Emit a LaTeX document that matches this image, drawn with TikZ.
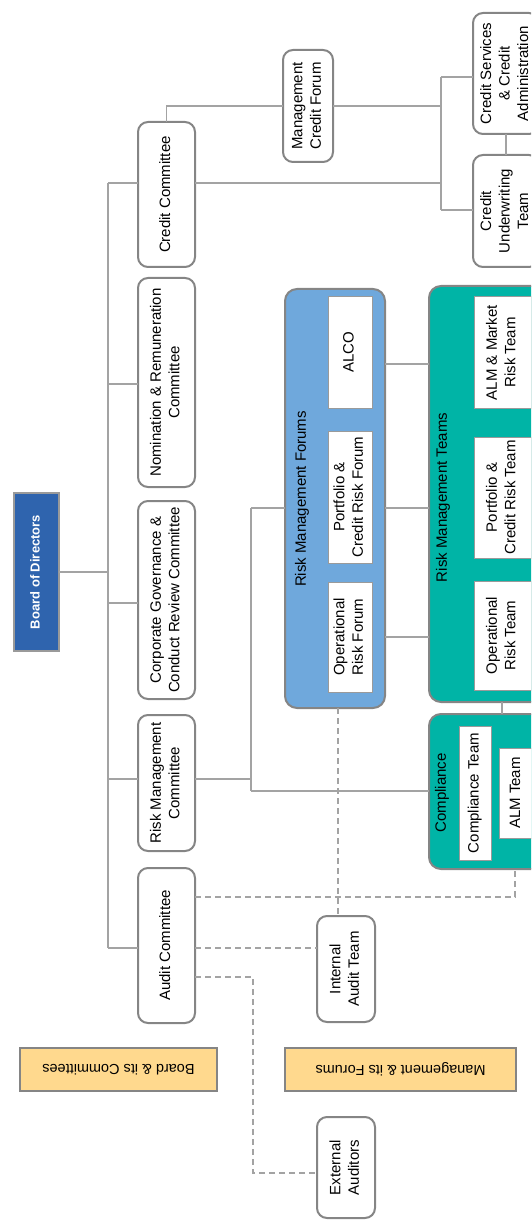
\documentclass[tikz,border=0pt]{standalone}
\usepackage{fontspec}
\setmainfont{Liberation Sans}
\usetikzlibrary{calc}
\definecolor{bordergray}{HTML}{858585}
\definecolor{innergray}{HTML}{9A9A9A}
\definecolor{linegray}{HTML}{A3A3A3}
\definecolor{boardblue}{HTML}{2F64AE}
\definecolor{forumblue}{HTML}{6FA8DC}
\definecolor{teamteal}{HTML}{00B4A6}
\definecolor{legyellow}{HTML}{FFD98E}
\newcommand{\vtext}[1]{\rotatebox{90}{\begin{tabular}{@{}c@{}}#1\end{tabular}}}
\begin{document}
\begin{tikzpicture}[x=1pt,y=-1pt,
  every node/.style={inner sep=0pt, outer sep=0pt, font=\fontsize{15}{18.5}\selectfont},
  rbox/.style={draw=bordergray, line width=2pt, rounded corners=10pt, fill=white},
  wbox/.style={draw=innergray, line width=1pt, fill=white},
  grp/.style={draw=bordergray, line width=2pt, rounded corners=12pt},
  boardbox/.style={draw=innergray, line width=2pt, fill=boardblue, text=white, font=\fontsize{13}{16}\selectfont\bfseries},
  legbox/.style={draw=bordergray, line width=2pt, fill=legyellow, font=\fontsize{14.5}{18}\selectfont},
  conn/.style={draw=linegray, line width=1.2pt},
  dconn/.style={draw=linegray, line width=1.2pt, dash pattern=on 6pt off 4pt},
]
\useasboundingbox (0,0) rectangle (531,1222);
\clip (0,0) rectangle (531,1222);

% Board and committees
\node[boardbox, minimum width=45pt, minimum height=158pt] (board) at (36.5,572) {\vtext{Board of Directors}};
\node[rbox, minimum width=57pt, minimum height=145pt] (cc) at (166.5,194.5) {\vtext{Credit Committee}};
\node[rbox, minimum width=57pt, minimum height=209pt] (nrc) at (166.5,382.5) {\vtext{Nomination \& Remuneration\\Committee}};
\node[rbox, minimum width=57pt, minimum height=198pt] (cgc) at (166.5,600) {\vtext{Corporate Governance \&\\Conduct Review Committee}};
\node[rbox, minimum width=57pt, minimum height=136pt] (rmc) at (166.5,783) {\vtext{Risk Management\\Committee}};
\node[rbox, minimum width=57pt, minimum height=155pt] (ac) at (166.5,945.5) {\vtext{Audit Committee}};

% Credit side
\node[rbox, minimum width=50pt, minimum height=112pt] (mcf) at (308,106) {\vtext{Management\\Credit Forum}};
\node[rbox, minimum width=66pt, minimum height=121pt] (csca) at (506,73.5) {\vtext{Credit Services\\\& Credit\\Administration}};
\node[rbox, minimum width=66pt, minimum height=112pt] (cut) at (506,211) {\vtext{Credit\\Underwriting\\Team}};

% Groups
\node[grp, fill=forumblue, minimum width=100pt, minimum height=419pt] (rmf) at (335,498.5) {};
\node[grp, fill=teamteal, minimum width=116pt, minimum height=416pt] (rmt) at (487,494) {};
\node[grp, fill=teamteal, minimum width=116pt, minimum height=155pt] (comp) at (487,791.5) {};
\node (rmfl) at (302,499) {\rotatebox{90}{Risk Management Forums}};
\node (rmtl) at (443,497.5) {\rotatebox{90}{Risk Management Teams}};
\node (compl) at (442,793) {\rotatebox{90}{Compliance}};

\node[wbox, minimum width=44pt, minimum height=111pt] (alco) at (350,352.5) {\vtext{ALCO}};
\node[wbox, minimum width=44pt, minimum height=132pt] (pcrf) at (350,497) {\vtext{Portfolio \&\\Credit Risk Forum}};
\node[wbox, minimum width=44pt, minimum height=110pt] (orf) at (350,637) {\vtext{Operational\\Risk Forum}};
\node[wbox, minimum width=57pt, minimum height=111pt] (almm) at (502.5,352.5) {\vtext{ALM \& Market\\Risk Team}};
\node[wbox, minimum width=57pt, minimum height=121pt] (pcrt) at (502.5,497.5) {\vtext{Portfolio \&\\Credit Risk Team}};
\node[wbox, minimum width=57pt, minimum height=109pt] (ort) at (502.5,635.5) {\vtext{Operational\\Risk Team}};
\node[wbox, minimum width=32pt, minimum height=134pt] (ct) at (475,793) {\vtext{Compliance Team}};
\node[wbox, minimum width=35pt, minimum height=90pt] (almt) at (516.5,793) {\vtext{ALM Team}};

% Audit side
\node[rbox, minimum width=58pt, minimum height=106pt] (iat) at (346,969) {\vtext{Internal\\Audit Team}};
\node[rbox, minimum width=58pt, minimum height=101pt] (ea) at (346,1167.5) {\vtext{External\\Auditors}};

% Legends
\node[legbox, minimum width=197pt, minimum height=43pt] (leg1) at (118.5,1069.5) {\rotatebox{180}{Board \& its Committees}};
\node[legbox, minimum width=231pt, minimum height=43pt] (leg2) at (400.5,1069.5) {\rotatebox{180}{Management \& its Forums}};

% Trunk
\coordinate (trtop) at (108,183);
\coordinate (trbot) at (108,948);
\coordinate (jn) at (108,384);
\coordinate (jg) at (108,603);
\coordinate (rmcy) at (108,779);
\draw[conn] (trtop) -- (trbot);
\draw[conn] (board.east) -- (board.east -| trtop);
\draw[conn] (trtop) -- (trtop -| cc.west);
\draw[conn] (jn) -- (jn -| nrc.west);
\draw[conn] (jg) -- (jg -| cgc.west);
\draw[conn] (rmcy) -- (rmcy -| rmc.west);
\draw[conn] (trbot) -- (trbot -| ac.west);

% Credit connectors
\coordinate (ca) at (441,77);
\coordinate (cb) at (441,210);
\draw[conn] (cc.north) -- (cc.north |- mcf.west) -- (mcf.west);
\draw[conn] (mcf.east) -- (mcf.east -| ca);
\draw[conn] (ca) -- (cb);
\draw[conn] (ca) -- (ca -| csca.west);
\draw[conn] (cb) -- (cb -| cut.west);
\draw[conn] (trtop -| cc.east) -- (trtop -| ca);
\draw[conn] (csca.south) -- (cut.north);

% Risk connectors
\coordinate (ra) at (251,508);
\coordinate (rb) at (251,791);
\coordinate (r1) at (0,364);
\coordinate (r3) at (0,637);
\coordinate (rx) at (502,0);
\draw[conn] (rmcy -| rmc.east) -- (rmcy -| ra);
\draw[conn] (ra) -- (rb);
\draw[conn] (ra) -- (ra -| rmf.west);
\draw[conn] (rb) -- (rb -| comp.west);
\draw[conn] (r1 -| rmf.east) -- (r1 -| rmt.west);
\draw[conn] (ra -| rmf.east) -- (ra -| rmt.west);
\draw[conn] (r3 -| rmf.east) -- (r3 -| rmt.west);
\draw[conn] (rx |- rmt.south) -- (rx |- comp.north);

% Dashed audit connectors
\coordinate (d1) at (515,897);
\coordinate (d2) at (338,0);
\coordinate (d3) at (0,948);
\coordinate (d4) at (253,977);
\coordinate (d5) at (253,1173);
\draw[dconn] (d1 -| ac.east) -- (d1) -- (d1 |- comp.south);
\draw[dconn] (d2 |- rmf.south) -- (d2 |- iat.north);
\draw[dconn] (d3 -| ac.east) -- (d3 -| iat.west);
\draw[dconn] (d4 -| ac.east) -- (d4) -- (d5) -- (d5 -| ea.west);
\end{tikzpicture}
\end{document}
